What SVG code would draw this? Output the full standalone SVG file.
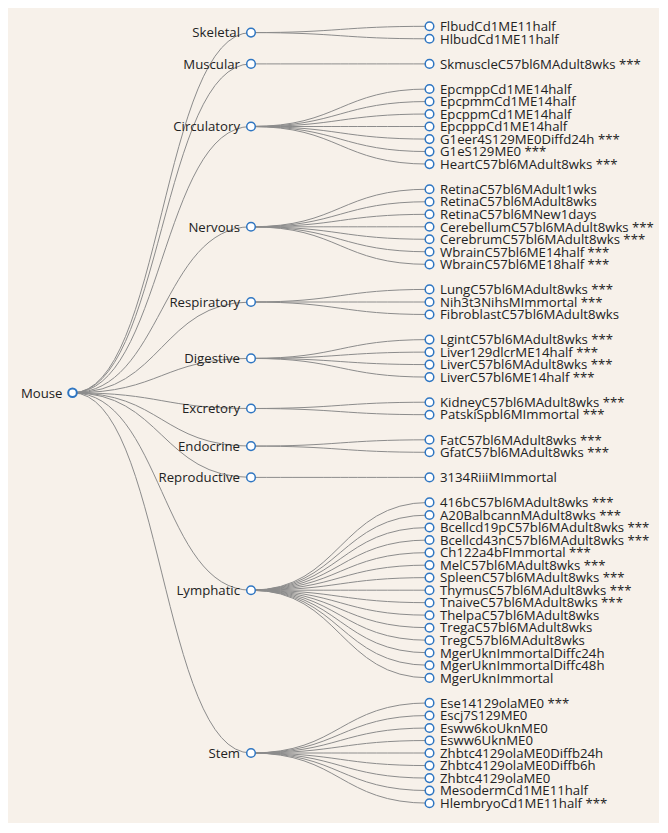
<svg xmlns="http://www.w3.org/2000/svg" width="668" height="833" viewBox="0 0 668 833">
<style>
.bg{fill:#f7f1ea}
.link{fill:none;stroke:#8c8c8c;stroke-width:1}
.node circle{fill:#fff;stroke:#2f76c2;stroke-width:1.5}
.root circle{stroke-width:2}
text{font-family:"Open Sans","Noto Sans","Liberation Sans",sans-serif;font-size:13.2px;fill:#222}
.l text{text-anchor:end}
</style>
<rect class="bg" x="8" y="8" width="651" height="815"/>
<g id="links">
<path class="link" d="M72.5,392.8C161.75,392.8 161.75,32.6 251,32.6"/>
<path class="link" d="M72.5,392.8C161.75,392.8 161.75,63.9 251,63.9"/>
<path class="link" d="M72.5,392.8C161.75,392.8 161.75,126.5 251,126.5"/>
<path class="link" d="M72.5,392.8C161.75,392.8 161.75,226.8 251,226.8"/>
<path class="link" d="M72.5,392.8C161.75,392.8 161.75,302 251,302"/>
<path class="link" d="M72.5,392.8C161.75,392.8 161.75,358.4 251,358.4"/>
<path class="link" d="M72.5,392.8C161.75,392.8 161.75,408.5 251,408.5"/>
<path class="link" d="M72.5,392.8C161.75,392.8 161.75,446.1 251,446.1"/>
<path class="link" d="M72.5,392.8C161.75,392.8 161.75,477.4 251,477.4"/>
<path class="link" d="M72.5,392.8C161.75,392.8 161.75,590.2 251,590.2"/>
<path class="link" d="M72.5,392.8C161.75,392.8 161.75,753 251,753"/>
<path class="link" d="M251,32.6C340.25,32.6 340.25,26.3 429.5,26.3"/>
<path class="link" d="M251,32.6C340.25,32.6 340.25,38.8 429.5,38.8"/>
<path class="link" d="M251,63.9C340.25,63.9 340.25,63.9 429.5,63.9"/>
<path class="link" d="M251,126.5C340.25,126.5 340.25,89 429.5,89"/>
<path class="link" d="M251,126.5C340.25,126.5 340.25,101.5 429.5,101.5"/>
<path class="link" d="M251,126.5C340.25,126.5 340.25,114 429.5,114"/>
<path class="link" d="M251,126.5C340.25,126.5 340.25,126.5 429.5,126.5"/>
<path class="link" d="M251,126.5C340.25,126.5 340.25,139.1 429.5,139.1"/>
<path class="link" d="M251,126.5C340.25,126.5 340.25,151.6 429.5,151.6"/>
<path class="link" d="M251,126.5C340.25,126.5 340.25,164.1 429.5,164.1"/>
<path class="link" d="M251,226.8C340.25,226.8 340.25,189.2 429.5,189.2"/>
<path class="link" d="M251,226.8C340.25,226.8 340.25,201.7 429.5,201.7"/>
<path class="link" d="M251,226.8C340.25,226.8 340.25,214.3 429.5,214.3"/>
<path class="link" d="M251,226.8C340.25,226.8 340.25,226.8 429.5,226.8"/>
<path class="link" d="M251,226.8C340.25,226.8 340.25,239.3 429.5,239.3"/>
<path class="link" d="M251,226.8C340.25,226.8 340.25,251.8 429.5,251.8"/>
<path class="link" d="M251,226.8C340.25,226.8 340.25,264.4 429.5,264.4"/>
<path class="link" d="M251,302C340.25,302 340.25,289.4 429.5,289.4"/>
<path class="link" d="M251,302C340.25,302 340.25,302 429.5,302"/>
<path class="link" d="M251,302C340.25,302 340.25,314.5 429.5,314.5"/>
<path class="link" d="M251,358.4C340.25,358.4 340.25,339.6 429.5,339.6"/>
<path class="link" d="M251,358.4C340.25,358.4 340.25,352.1 429.5,352.1"/>
<path class="link" d="M251,358.4C340.25,358.4 340.25,364.6 429.5,364.6"/>
<path class="link" d="M251,358.4C340.25,358.4 340.25,377.1 429.5,377.1"/>
<path class="link" d="M251,408.5C340.25,408.5 340.25,402.2 429.5,402.2"/>
<path class="link" d="M251,408.5C340.25,408.5 340.25,414.7 429.5,414.7"/>
<path class="link" d="M251,446.1C340.25,446.1 340.25,439.8 429.5,439.8"/>
<path class="link" d="M251,446.1C340.25,446.1 340.25,452.3 429.5,452.3"/>
<path class="link" d="M251,477.4C340.25,477.4 340.25,477.4 429.5,477.4"/>
<path class="link" d="M251,590.2C340.25,590.2 340.25,502.4 429.5,502.4"/>
<path class="link" d="M251,590.2C340.25,590.2 340.25,515 429.5,515"/>
<path class="link" d="M251,590.2C340.25,590.2 340.25,527.5 429.5,527.5"/>
<path class="link" d="M251,590.2C340.25,590.2 340.25,540 429.5,540"/>
<path class="link" d="M251,590.2C340.25,590.2 340.25,552.6 429.5,552.6"/>
<path class="link" d="M251,590.2C340.25,590.2 340.25,565.1 429.5,565.1"/>
<path class="link" d="M251,590.2C340.25,590.2 340.25,577.6 429.5,577.6"/>
<path class="link" d="M251,590.2C340.25,590.2 340.25,590.2 429.5,590.2"/>
<path class="link" d="M251,590.2C340.25,590.2 340.25,602.7 429.5,602.7"/>
<path class="link" d="M251,590.2C340.25,590.2 340.25,615.2 429.5,615.2"/>
<path class="link" d="M251,590.2C340.25,590.2 340.25,627.7 429.5,627.7"/>
<path class="link" d="M251,590.2C340.25,590.2 340.25,640.3 429.5,640.3"/>
<path class="link" d="M251,590.2C340.25,590.2 340.25,652.8 429.5,652.8"/>
<path class="link" d="M251,590.2C340.25,590.2 340.25,665.3 429.5,665.3"/>
<path class="link" d="M251,590.2C340.25,590.2 340.25,677.9 429.5,677.9"/>
<path class="link" d="M251,753C340.25,753 340.25,702.9 429.5,702.9"/>
<path class="link" d="M251,753C340.25,753 340.25,715.5 429.5,715.5"/>
<path class="link" d="M251,753C340.25,753 340.25,728 429.5,728"/>
<path class="link" d="M251,753C340.25,753 340.25,740.5 429.5,740.5"/>
<path class="link" d="M251,753C340.25,753 340.25,753 429.5,753"/>
<path class="link" d="M251,753C340.25,753 340.25,765.6 429.5,765.6"/>
<path class="link" d="M251,753C340.25,753 340.25,778.1 429.5,778.1"/>
<path class="link" d="M251,753C340.25,753 340.25,790.6 429.5,790.6"/>
<path class="link" d="M251,753C340.25,753 340.25,803.2 429.5,803.2"/>
</g>
<g id="node-mouse" class="node root l" transform="translate(72.5,392.8)"><circle r="4.3"/><text x="-10" dy="4.7">Mouse</text></g>
<g id="node-skeletal" class="node l" transform="translate(251,32.6)"><circle r="4.3"/><text x="-11" dy="4.7">Skeletal</text></g>
<g id="node-muscular" class="node l" transform="translate(251,63.9)"><circle r="4.3"/><text x="-11" dy="4.7">Muscular</text></g>
<g id="node-circulatory" class="node l" transform="translate(251,126.5)"><circle r="4.3"/><text x="-11" dy="4.7">Circulatory</text></g>
<g id="node-nervous" class="node l" transform="translate(251,226.8)"><circle r="4.3"/><text x="-11" dy="4.7">Nervous</text></g>
<g id="node-respiratory" class="node l" transform="translate(251,302)"><circle r="4.3"/><text x="-11" dy="4.7">Respiratory</text></g>
<g id="node-digestive" class="node l" transform="translate(251,358.4)"><circle r="4.3"/><text x="-11" dy="4.7">Digestive</text></g>
<g id="node-excretory" class="node l" transform="translate(251,408.5)"><circle r="4.3"/><text x="-11" dy="4.7">Excretory</text></g>
<g id="node-endocrine" class="node l" transform="translate(251,446.1)"><circle r="4.3"/><text x="-11" dy="4.7">Endocrine</text></g>
<g id="node-reproductive" class="node l" transform="translate(251,477.4)"><circle r="4.3"/><text x="-11" dy="4.7">Reproductive</text></g>
<g id="node-lymphatic" class="node l" transform="translate(251,590.2)"><circle r="4.3"/><text x="-11" dy="4.7">Lymphatic</text></g>
<g id="node-stem" class="node l" transform="translate(251,753)"><circle r="4.3"/><text x="-11" dy="4.7">Stem</text></g>
<g id="leaf-1" class="node" transform="translate(429.5,26.3)"><circle r="4.3"/><text x="10.5" dy="4.7">FlbudCd1ME11half</text></g>
<g id="leaf-2" class="node" transform="translate(429.5,38.8)"><circle r="4.3"/><text x="10.5" dy="4.7">HlbudCd1ME11half</text></g>
<g id="leaf-3" class="node" transform="translate(429.5,63.9)"><circle r="4.3"/><text x="10.5" dy="4.7">SkmuscleC57bl6MAdult8wks ***</text></g>
<g id="leaf-4" class="node" transform="translate(429.5,89)"><circle r="4.3"/><text x="10.5" dy="4.7">EpcmppCd1ME14half</text></g>
<g id="leaf-5" class="node" transform="translate(429.5,101.5)"><circle r="4.3"/><text x="10.5" dy="4.7">EpcpmmCd1ME14half</text></g>
<g id="leaf-6" class="node" transform="translate(429.5,114)"><circle r="4.3"/><text x="10.5" dy="4.7">EpcppmCd1ME14half</text></g>
<g id="leaf-7" class="node" transform="translate(429.5,126.5)"><circle r="4.3"/><text x="10.5" dy="4.7">EpcpppCd1ME14half</text></g>
<g id="leaf-8" class="node" transform="translate(429.5,139.1)"><circle r="4.3"/><text x="10.5" dy="4.7">G1eer4S129ME0Diffd24h ***</text></g>
<g id="leaf-9" class="node" transform="translate(429.5,151.6)"><circle r="4.3"/><text x="10.5" dy="4.7">G1eS129ME0 ***</text></g>
<g id="leaf-10" class="node" transform="translate(429.5,164.1)"><circle r="4.3"/><text x="10.5" dy="4.7">HeartC57bl6MAdult8wks ***</text></g>
<g id="leaf-11" class="node" transform="translate(429.5,189.2)"><circle r="4.3"/><text x="10.5" dy="4.7">RetinaC57bl6MAdult1wks</text></g>
<g id="leaf-12" class="node" transform="translate(429.5,201.7)"><circle r="4.3"/><text x="10.5" dy="4.7">RetinaC57bl6MAdult8wks</text></g>
<g id="leaf-13" class="node" transform="translate(429.5,214.3)"><circle r="4.3"/><text x="10.5" dy="4.7">RetinaC57bl6MNew1days</text></g>
<g id="leaf-14" class="node" transform="translate(429.5,226.8)"><circle r="4.3"/><text x="10.5" dy="4.7">CerebellumC57bl6MAdult8wks ***</text></g>
<g id="leaf-15" class="node" transform="translate(429.5,239.3)"><circle r="4.3"/><text x="10.5" dy="4.7">CerebrumC57bl6MAdult8wks ***</text></g>
<g id="leaf-16" class="node" transform="translate(429.5,251.8)"><circle r="4.3"/><text x="10.5" dy="4.7">WbrainC57bl6ME14half ***</text></g>
<g id="leaf-17" class="node" transform="translate(429.5,264.4)"><circle r="4.3"/><text x="10.5" dy="4.7">WbrainC57bl6ME18half ***</text></g>
<g id="leaf-18" class="node" transform="translate(429.5,289.4)"><circle r="4.3"/><text x="10.5" dy="4.7">LungC57bl6MAdult8wks ***</text></g>
<g id="leaf-19" class="node" transform="translate(429.5,302)"><circle r="4.3"/><text x="10.5" dy="4.7">Nih3t3NihsMImmortal ***</text></g>
<g id="leaf-20" class="node" transform="translate(429.5,314.5)"><circle r="4.3"/><text x="10.5" dy="4.7">FibroblastC57bl6MAdult8wks</text></g>
<g id="leaf-21" class="node" transform="translate(429.5,339.6)"><circle r="4.3"/><text x="10.5" dy="4.7">LgintC57bl6MAdult8wks ***</text></g>
<g id="leaf-22" class="node" transform="translate(429.5,352.1)"><circle r="4.3"/><text x="10.5" dy="4.7">Liver129dlcrME14half ***</text></g>
<g id="leaf-23" class="node" transform="translate(429.5,364.6)"><circle r="4.3"/><text x="10.5" dy="4.7">LiverC57bl6MAdult8wks ***</text></g>
<g id="leaf-24" class="node" transform="translate(429.5,377.1)"><circle r="4.3"/><text x="10.5" dy="4.7">LiverC57bl6ME14half ***</text></g>
<g id="leaf-25" class="node" transform="translate(429.5,402.2)"><circle r="4.3"/><text x="10.5" dy="4.7">KidneyC57bl6MAdult8wks ***</text></g>
<g id="leaf-26" class="node" transform="translate(429.5,414.7)"><circle r="4.3"/><text x="10.5" dy="4.7">PatskiSpbl6MImmortal ***</text></g>
<g id="leaf-27" class="node" transform="translate(429.5,439.8)"><circle r="4.3"/><text x="10.5" dy="4.7">FatC57bl6MAdult8wks ***</text></g>
<g id="leaf-28" class="node" transform="translate(429.5,452.3)"><circle r="4.3"/><text x="10.5" dy="4.7">GfatC57bl6MAdult8wks ***</text></g>
<g id="leaf-29" class="node" transform="translate(429.5,477.4)"><circle r="4.3"/><text x="10.5" dy="4.7">3134RiiiMImmortal</text></g>
<g id="leaf-30" class="node" transform="translate(429.5,502.4)"><circle r="4.3"/><text x="10.5" dy="4.7">416bC57bl6MAdult8wks ***</text></g>
<g id="leaf-31" class="node" transform="translate(429.5,515)"><circle r="4.3"/><text x="10.5" dy="4.7">A20BalbcannMAdult8wks ***</text></g>
<g id="leaf-32" class="node" transform="translate(429.5,527.5)"><circle r="4.3"/><text x="10.5" dy="4.7">Bcellcd19pC57bl6MAdult8wks ***</text></g>
<g id="leaf-33" class="node" transform="translate(429.5,540)"><circle r="4.3"/><text x="10.5" dy="4.7">Bcellcd43nC57bl6MAdult8wks ***</text></g>
<g id="leaf-34" class="node" transform="translate(429.5,552.6)"><circle r="4.3"/><text x="10.5" dy="4.7">Ch122a4bFImmortal ***</text></g>
<g id="leaf-35" class="node" transform="translate(429.5,565.1)"><circle r="4.3"/><text x="10.5" dy="4.7">MelC57bl6MAdult8wks ***</text></g>
<g id="leaf-36" class="node" transform="translate(429.5,577.6)"><circle r="4.3"/><text x="10.5" dy="4.7">SpleenC57bl6MAdult8wks ***</text></g>
<g id="leaf-37" class="node" transform="translate(429.5,590.2)"><circle r="4.3"/><text x="10.5" dy="4.7">ThymusC57bl6MAdult8wks ***</text></g>
<g id="leaf-38" class="node" transform="translate(429.5,602.7)"><circle r="4.3"/><text x="10.5" dy="4.7">TnaiveC57bl6MAdult8wks ***</text></g>
<g id="leaf-39" class="node" transform="translate(429.5,615.2)"><circle r="4.3"/><text x="10.5" dy="4.7">ThelpaC57bl6MAdult8wks</text></g>
<g id="leaf-40" class="node" transform="translate(429.5,627.7)"><circle r="4.3"/><text x="10.5" dy="4.7">TregaC57bl6MAdult8wks</text></g>
<g id="leaf-41" class="node" transform="translate(429.5,640.3)"><circle r="4.3"/><text x="10.5" dy="4.7">TregC57bl6MAdult8wks</text></g>
<g id="leaf-42" class="node" transform="translate(429.5,652.8)"><circle r="4.3"/><text x="10.5" dy="4.7">MgerUknImmortalDiffc24h</text></g>
<g id="leaf-43" class="node" transform="translate(429.5,665.3)"><circle r="4.3"/><text x="10.5" dy="4.7">MgerUknImmortalDiffc48h</text></g>
<g id="leaf-44" class="node" transform="translate(429.5,677.9)"><circle r="4.3"/><text x="10.5" dy="4.7">MgerUknImmortal</text></g>
<g id="leaf-45" class="node" transform="translate(429.5,702.9)"><circle r="4.3"/><text x="10.5" dy="4.7">Ese14129olaME0 ***</text></g>
<g id="leaf-46" class="node" transform="translate(429.5,715.5)"><circle r="4.3"/><text x="10.5" dy="4.7">Escj7S129ME0</text></g>
<g id="leaf-47" class="node" transform="translate(429.5,728)"><circle r="4.3"/><text x="10.5" dy="4.7">Esww6koUknME0</text></g>
<g id="leaf-48" class="node" transform="translate(429.5,740.5)"><circle r="4.3"/><text x="10.5" dy="4.7">Esww6UknME0</text></g>
<g id="leaf-49" class="node" transform="translate(429.5,753)"><circle r="4.3"/><text x="10.5" dy="4.7">Zhbtc4129olaME0Diffb24h</text></g>
<g id="leaf-50" class="node" transform="translate(429.5,765.6)"><circle r="4.3"/><text x="10.5" dy="4.7">Zhbtc4129olaME0Diffb6h</text></g>
<g id="leaf-51" class="node" transform="translate(429.5,778.1)"><circle r="4.3"/><text x="10.5" dy="4.7">Zhbtc4129olaME0</text></g>
<g id="leaf-52" class="node" transform="translate(429.5,790.6)"><circle r="4.3"/><text x="10.5" dy="4.7">MesodermCd1ME11half</text></g>
<g id="leaf-53" class="node" transform="translate(429.5,803.2)"><circle r="4.3"/><text x="10.5" dy="4.7">HlembryoCd1ME11half ***</text></g>
</svg>
